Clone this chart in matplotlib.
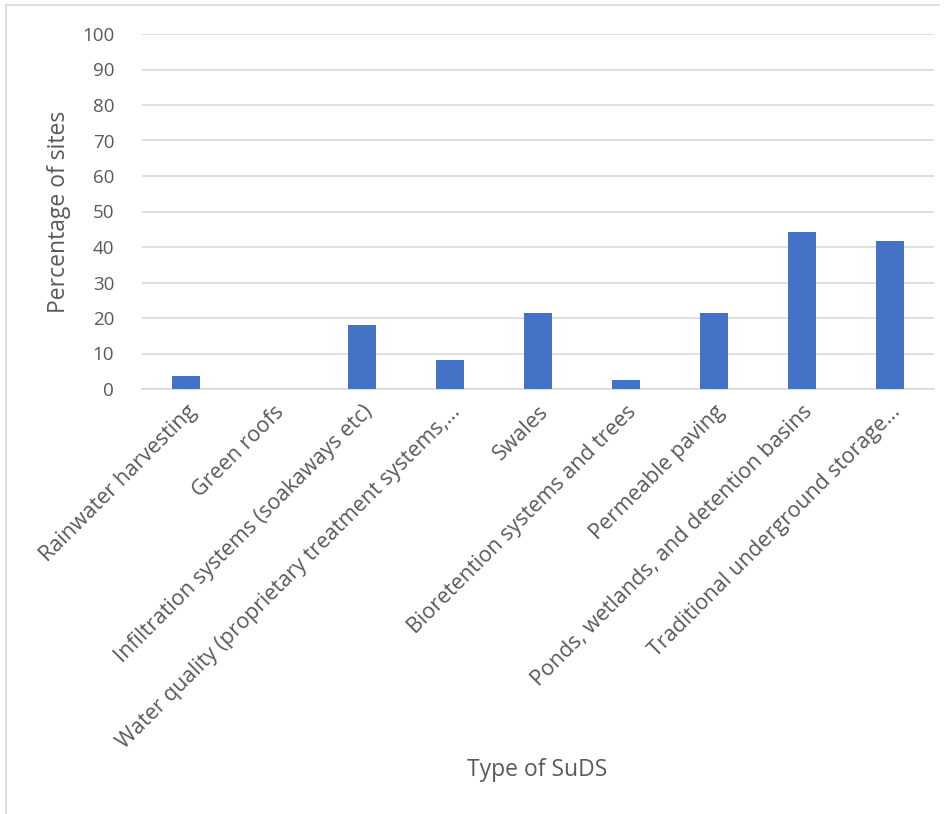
import matplotlib
matplotlib.use("Agg")
import matplotlib.pyplot as plt
from matplotlib.lines import Line2D

categories = [
    "Rainwater harvesting",
    "Green roofs",
    "Infiltration systems (soakaways etc)",
    "Water quality (proprietary treatment systems,\u2026",
    "Swales",
    "Bioretention systems and trees",
    "Permeable paving",
    "Ponds, wetlands, and detention basins",
    "Traditional underground storage\u2026",
]
values = [3.6, 0.0, 17.9, 8.3, 21.4, 2.4, 21.4, 44.1, 41.7]
yticks = [0, 10, 20, 30, 40, 50, 60, 70, 80, 90, 100]

plt.rcParams['font.family'] = ['Open Sans', 'DejaVu Sans']
gray = '#595959'

fig = plt.figure(figsize=(9.48, 8.14), dpi=100)
ax = fig.add_axes([142/948, 1-389/814, (934-142)/948, (389-34)/814])

x = list(range(len(categories)))
ax.bar(x, values, width=0.31, color='#4472C4', zorder=3)
ax.set_xlim(-0.5, len(categories)-0.5)
ax.set_ylim(0, 100)
ax.set_yticks(yticks)
ax.set_yticklabels([str(v) for v in yticks], fontsize=13.5, color=gray)
ax.set_xticks(x)
ax.set_xticklabels(categories, rotation=45, ha='right', rotation_mode='anchor',
                   fontsize=15.5, color=gray)
ax.tick_params(axis='both', length=0)
ax.tick_params(axis='y', pad=20)
ax.tick_params(axis='x', pad=9)
ax.grid(axis='y', color='#d9d9d9', linewidth=1.2, zorder=0)
for s in ['top', 'right', 'left']:
    ax.spines[s].set_visible(False)
ax.spines['bottom'].set_color('#d9d9d9')
ax.spines['bottom'].set_linewidth(1.2)

ax.set_ylabel("Percentage of sites", fontsize=16.5, color=gray, labelpad=8)
fig.text(537/948, 1-770/814, "Type of SuDS", fontsize=16.5, color=gray,
         ha='center', va='center')

# chart border (partially cropped)
fig.add_artist(Line2D([6/948, 6/948], [0, 1-5/814], transform=fig.transFigure,
                      color='#d9d9d9', linewidth=1.2))
fig.add_artist(Line2D([6/948, 939/948], [1-5/814, 1-5/814], transform=fig.transFigure,
                      color='#d9d9d9', linewidth=1.2))

fig.savefig("out.png", dpi=100)
